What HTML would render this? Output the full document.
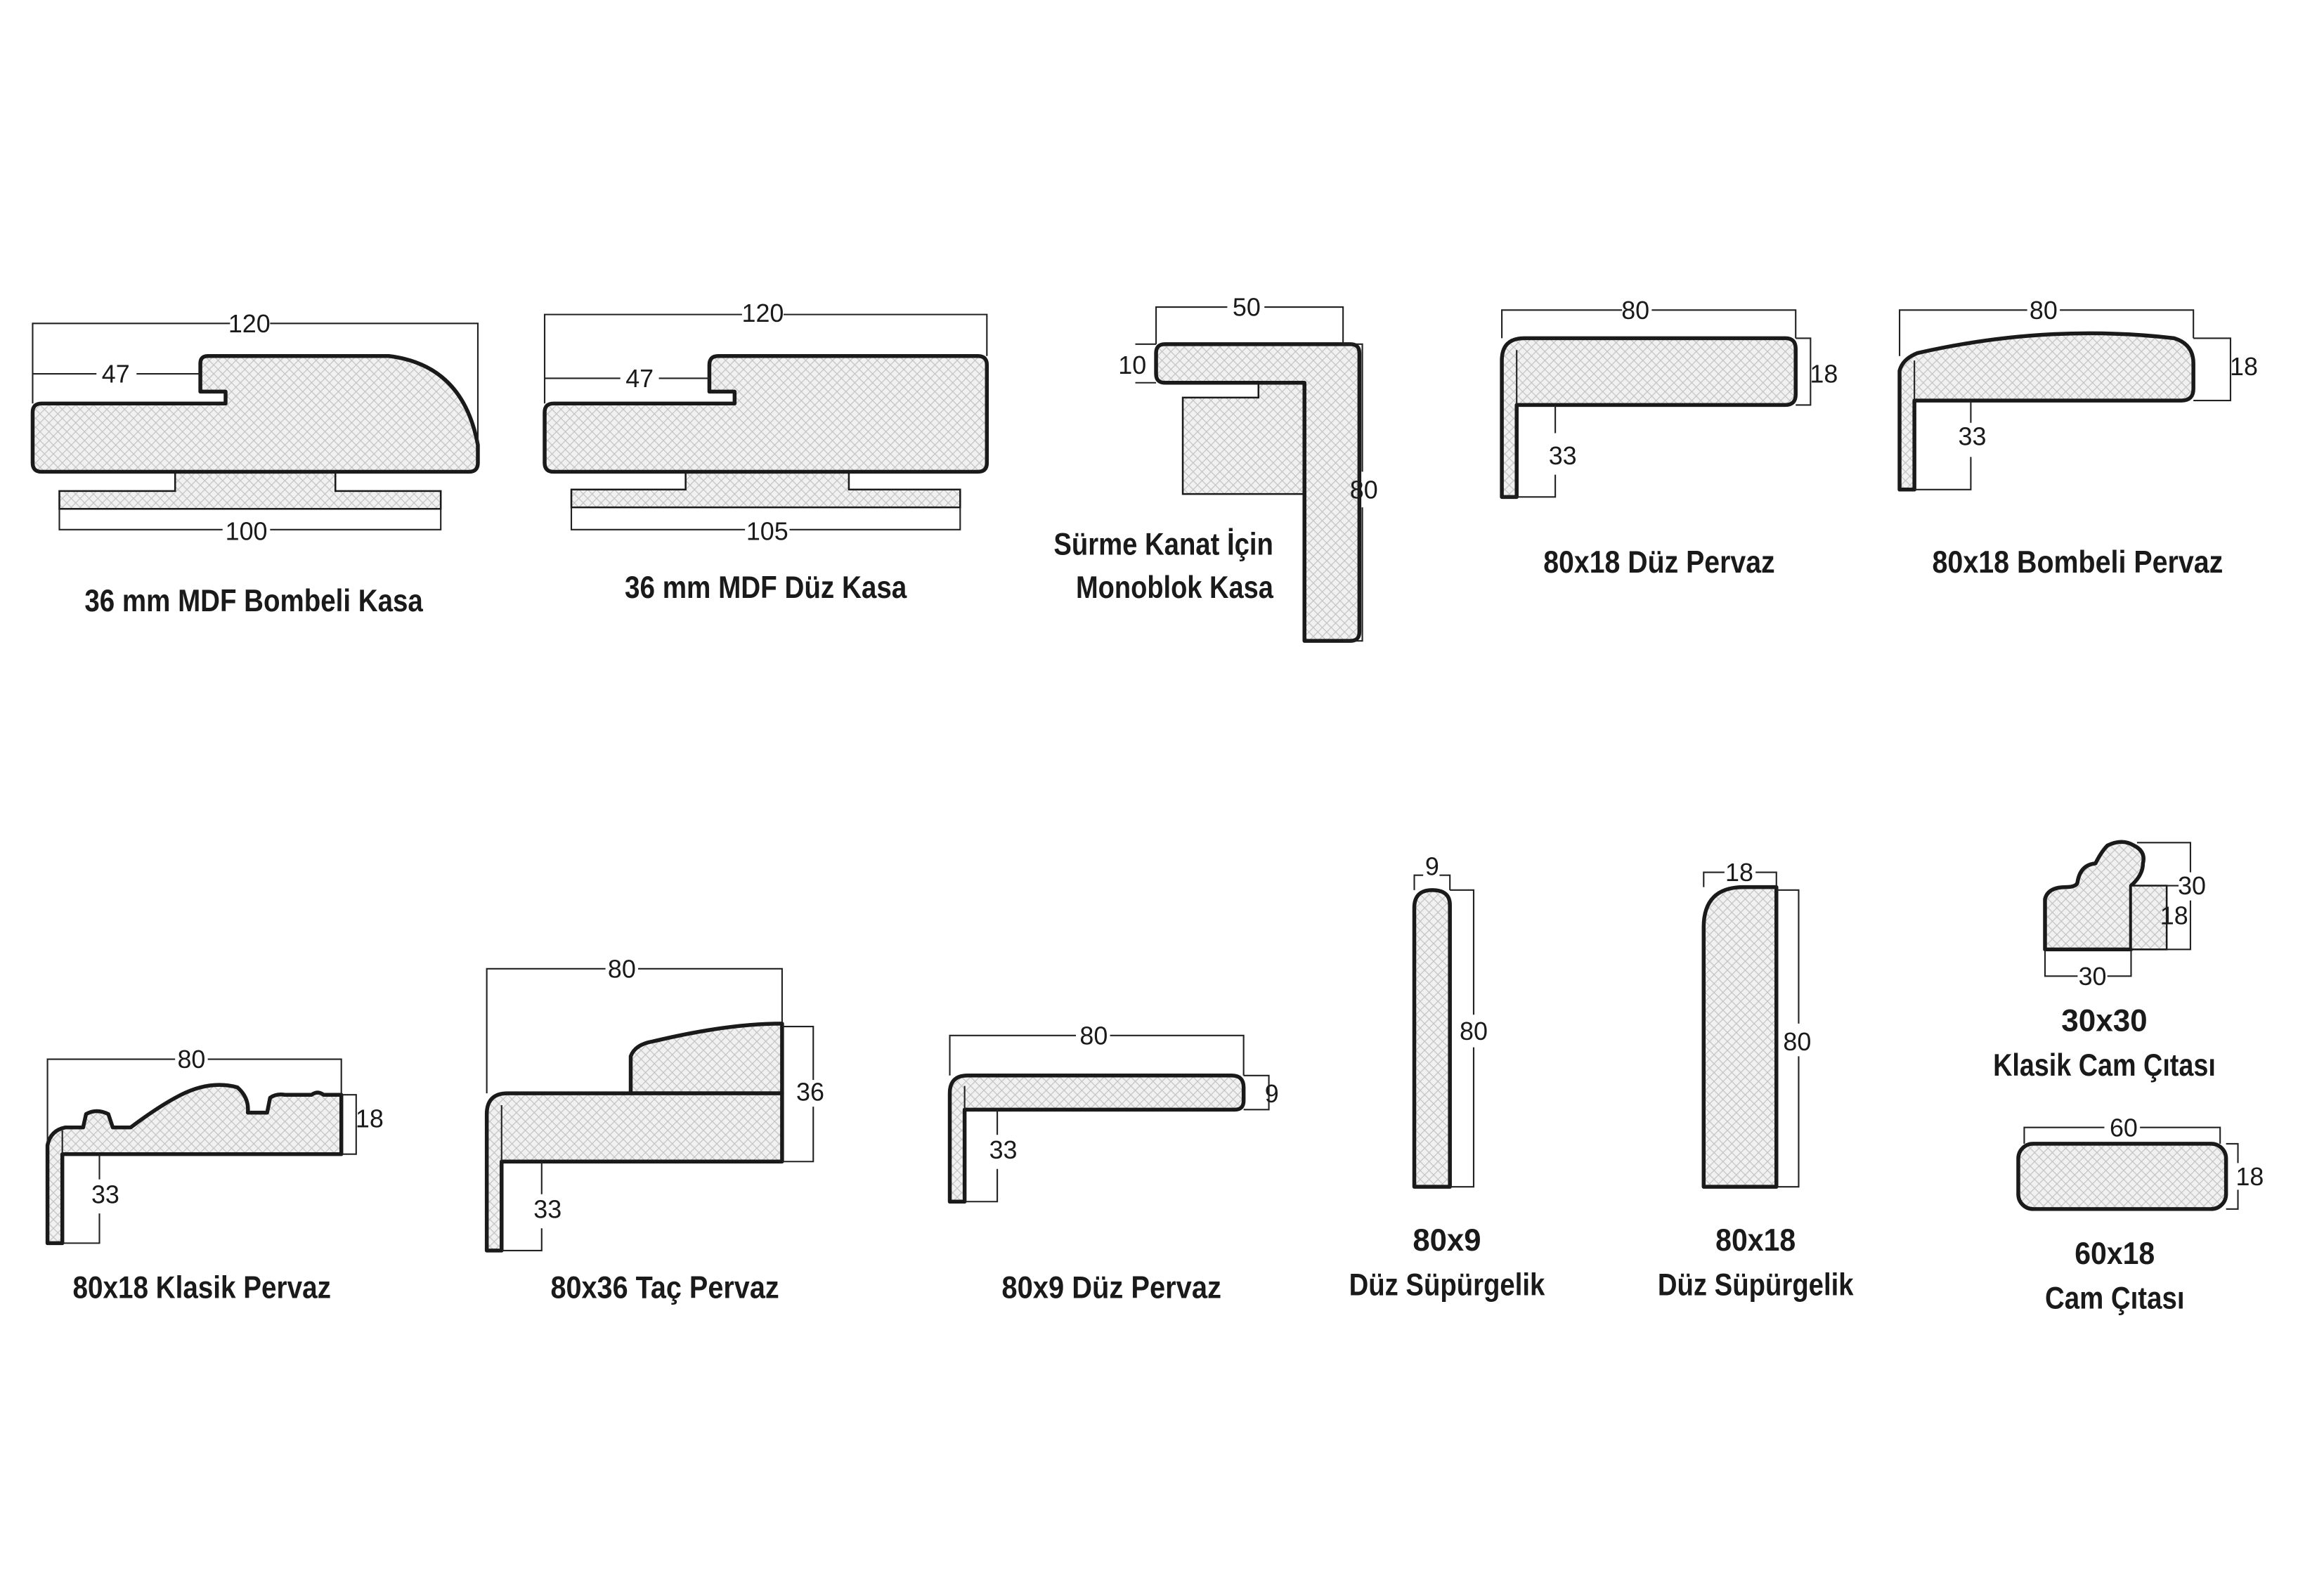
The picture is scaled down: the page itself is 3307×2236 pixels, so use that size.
<!DOCTYPE html>
<html><head><meta charset="utf-8"><style>
html,body{margin:0;padding:0;background:#fff}
svg{display:block}
.d{stroke:#222;stroke-width:1;fill:none}
.s{stroke:#1a1a1a;stroke-width:2.6;fill:url(#h);stroke-linejoin:round}
.t{stroke:#1a1a1a;stroke-width:1.2;fill:url(#h)}
.n{font-family:"Liberation Sans",sans-serif;font-size:17px;fill:#1a1a1a;text-anchor:middle}
.l{font-family:"Liberation Sans",sans-serif;font-size:21px;font-weight:bold;fill:#1a1a1a;text-anchor:middle}
</style></head><body>
<svg width="3307" height="2236" viewBox="0 0 1566 1059" preserveAspectRatio="none" xmlns="http://www.w3.org/2000/svg">
<defs>
<pattern id="h" width="6" height="6" patternUnits="userSpaceOnUse">
<rect width="6" height="6" fill="#f1f1f1"/>
<path d="M0,0L6,6M6,0L0,6" stroke="#c4c4c4" stroke-width="0.6"/>
</pattern>
</defs>

<!-- 1 Bombeli Kasa -->
<path class="t" d="M118,316 L118,331 L40,331 L40,343 L297,343 L297,331 L226,331 L226,316 Z"/>
<path class="s" d="M28,272 L152,272 L152,264 L135,264 L135,245 Q135,240 140,240 L262,240 Q312,246 322,300 L322,312 Q322,318 316,318 L28,318 Q22,318 22,312 L22,278 Q22,272 28,272 Z"/>
<path class="d" d="M22,272V218H155M182,218H322V300M22,252H65M92,252H135M40,343V357H150M182,357H297V343"/>
<text class="n" x="168" y="224">120</text><text class="n" x="78" y="258">47</text><text class="n" x="166" y="364">100</text>
<text class="l" x="171" y="412" textLength="228" lengthAdjust="spacingAndGlyphs">36 mm MDF Bombeli Kasa</text>

<!-- 2 Düz Kasa -->
<path class="t" d="M462,316 L462,330 L385,330 L385,342 L647,342 L647,330 L572,330 L572,316 Z"/>
<path class="s" d="M373,272 L495,272 L495,264 L478,264 L478,246 Q478,240 484,240 L659,240 Q665,240 665,246 L665,312 Q665,318 659,318 L373,318 Q367,318 367,312 L367,278 Q367,272 373,272 Z"/>
<path class="d" d="M367,272V212H500M528,212H665V240M367,255H418M444,255H478M385,342V357H502M532,357H647V342"/>
<text class="n" x="514" y="217">120</text><text class="n" x="431" y="261">47</text><text class="n" x="517" y="364">105</text>
<text class="l" x="516" y="403" textLength="190" lengthAdjust="spacingAndGlyphs">36 mm MDF Düz Kasa</text>

<!-- 3 Monoblok -->
<path class="t" d="M797,268 L848,268 L848,258 L879,258 L879,333 L797,333 Z"/>
<path class="s" d="M785,232 L910,232 Q916,232 916,238 L916,426 Q916,432 910,432 L879,432 L879,258 L785,258 Q779,258 779,252 L779,238 Q779,232 785,232 Z"/>
<path class="d" d="M779,232V207H827M852,207H905V232M765,232H779M765,258H779M905,232H918V318M918,342V432H905"/>
<text class="n" x="919" y="336">80</text><text class="n" x="840" y="213">50</text><text class="n" x="763" y="252">10</text>
<text class="l" x="858" y="374" style="text-anchor:end" textLength="148" lengthAdjust="spacingAndGlyphs">Sürme Kanat İçin</text>
<text class="l" x="858" y="403" style="text-anchor:end" textLength="133" lengthAdjust="spacingAndGlyphs">Monoblok Kasa</text>

<!-- 4 80x18 Düz Pervaz -->
<path class="s" d="M1027,228 L1203,228 Q1210,228 1210,235 L1210,266 Q1210,273 1203,273 L1022,273 L1022,335 L1012,335 L1012,243 Q1012,228 1027,228 Z"/>
<path class="d" d="M1022,236V273M1012,228V209H1093M1113,209H1210V228M1210,228H1220V273H1210M1048,273V292M1048,320V335H1012"/>
<text class="n" x="1102" y="215">80</text><text class="n" x="1229" y="258">18</text><text class="n" x="1053" y="313">33</text>
<text class="l" x="1118" y="386" textLength="156" lengthAdjust="spacingAndGlyphs">80x18 Düz Pervaz</text>

<!-- 5 80x18 Bombeli Pervaz -->
<path class="s" d="M1280,250 Q1282,242 1292,238 Q1380,218 1465,228 Q1478,232 1478,245 L1478,262 Q1478,270 1470,270 L1290,270 L1290,330 L1280,330 Z"/>
<path class="d" d="M1290,243V270M1280,240V209H1366M1388,209H1478V228M1478,228H1503V270H1478M1328,270V285M1328,308V330H1290"/>
<text class="n" x="1377" y="215">80</text><text class="n" x="1512" y="253">18</text><text class="n" x="1329" y="300">33</text>
<text class="l" x="1400" y="386" textLength="196" lengthAdjust="spacingAndGlyphs">80x18 Bombeli Pervaz</text>

<!-- 6 Klasik Pervaz -->
<path class="s" d="M32,772 Q34,762 44,760 L56,760 L58,751 Q65,747 73,751 L76,760 L88,760 Q108,745 122,738 Q142,728 160,733 Q168,740 167,750 L180,750 L182,740 Q186,737 192,738 L210,738 Q214,735 218,738 L230,738 L230,778 L42,778 L42,838 L32,838 Z"/>
<path class="d" d="M42,762V778M32,770V714H118M140,714H230V738M230,738H240V778H230M67,778V795M67,818V838H42"/>
<text class="n" x="129" y="720">80</text><text class="n" x="249" y="760">18</text><text class="n" x="71" y="811">33</text>
<text class="l" x="136" y="875" textLength="174" lengthAdjust="spacingAndGlyphs">80x18 Klasik Pervaz</text>

<!-- 7 Taç Pervaz -->
<path class="s" d="M425,737 L425,712 Q428,704 440,702 Q490,690 527,690 L527,737 Z"/>
<path class="s" d="M342,737 L527,737 L527,783 L338,783 L338,843 L328,843 L328,751 Q328,737 342,737 Z"/>
<path class="d" d="M338,745V783M328,737V653H408M430,653H527V690M527,692H548V728M548,746V783H527M365,783V805M365,828V843H338"/>
<text class="n" x="419" y="659">80</text><text class="n" x="546" y="742">36</text><text class="n" x="369" y="821">33</text>
<text class="l" x="448" y="875" textLength="154" lengthAdjust="spacingAndGlyphs">80x36 Taç Pervaz</text>

<!-- 8 80x9 Düz Pervaz -->
<path class="s" d="M652,725 L830,725 Q838,725 838,733 L838,742 Q838,748 832,748 L650,748 L650,810 L640,810 L640,737 Q640,725 652,725 Z"/>
<path class="d" d="M650,732V748M640,725V698H725M748,698H838V725M838,725H855V748H838M672,748V765M672,788V810H650"/>
<text class="n" x="737" y="704">80</text><text class="n" x="857" y="743">9</text><text class="n" x="676" y="781">33</text>
<text class="l" x="749" y="875" textLength="148" lengthAdjust="spacingAndGlyphs">80x9 Düz Pervaz</text>

<!-- 9 80x9 Süpürgelik -->
<path class="s" d="M965,600 Q977,600 977,610 L977,800 L953,800 L953,612 Q953,600 965,600 Z"/>
<path class="d" d="M953,600V590H959M970,590H977V600M977,600H993V684M993,706V800H977"/>
<text class="n" x="965" y="590">9</text><text class="n" x="993" y="701">80</text>
<text class="l" x="975" y="843" textLength="46" lengthAdjust="spacingAndGlyphs">80x9</text>
<text class="l" x="975" y="873" textLength="132" lengthAdjust="spacingAndGlyphs">Düz Süpürgelik</text>

<!-- 10 80x18 Süpürgelik -->
<path class="s" d="M1175,598 L1197,598 L1197,800 L1148,800 L1148,625 Q1148,598 1175,598 Z"/>
<path class="d" d="M1148,598V588H1162M1183,588H1197V598M1197,600H1212V690M1212,712V800H1197"/>
<text class="n" x="1172" y="594">18</text><text class="n" x="1211" y="708">80</text>
<text class="l" x="1183" y="843" textLength="54" lengthAdjust="spacingAndGlyphs">80x18</text>
<text class="l" x="1183" y="873" textLength="132" lengthAdjust="spacingAndGlyphs">Düz Süpürgelik</text>

<!-- 11 30x30 Klasik Cam -->
<path class="s" d="M1378,640 L1378,606 Q1380,598 1392,598 Q1400,598 1400,594 Q1402,583 1412,582 Q1416,574 1420,570 Q1430,565 1438,570 Q1446,574 1444,582 Q1444,590 1436,597 L1436,640 Z"/>
<path class="t" d="M1436,597 L1460,597 L1460,640 L1436,640 Z"/>
<path class="d" d="M1378,640V658H1400M1420,658H1436V640M1440,568H1476V588M1476,607V640H1460M1460,597H1468"/>
<text class="n" x="1410" y="664">30</text><text class="n" x="1477" y="603">30</text><text class="n" x="1465" y="623">18</text>
<text class="l" x="1418" y="695" textLength="58" lengthAdjust="spacingAndGlyphs">30x30</text>
<text class="l" x="1418" y="725" textLength="150" lengthAdjust="spacingAndGlyphs">Klasik Cam Çıtası</text>

<!-- 12 60x18 Cam -->
<rect class="s" x="1360" y="771" width="140" height="44" rx="10"/>
<path class="d" d="M1364,771V760H1418M1442,760H1496V771M1500,771H1508V784M1508,802V815H1500"/>
<text class="n" x="1431" y="766">60</text><text class="n" x="1516" y="799">18</text>
<text class="l" x="1425" y="852" textLength="54" lengthAdjust="spacingAndGlyphs">60x18</text>
<text class="l" x="1425" y="882" textLength="94" lengthAdjust="spacingAndGlyphs">Cam Çıtası</text>
</svg>
</body></html>
